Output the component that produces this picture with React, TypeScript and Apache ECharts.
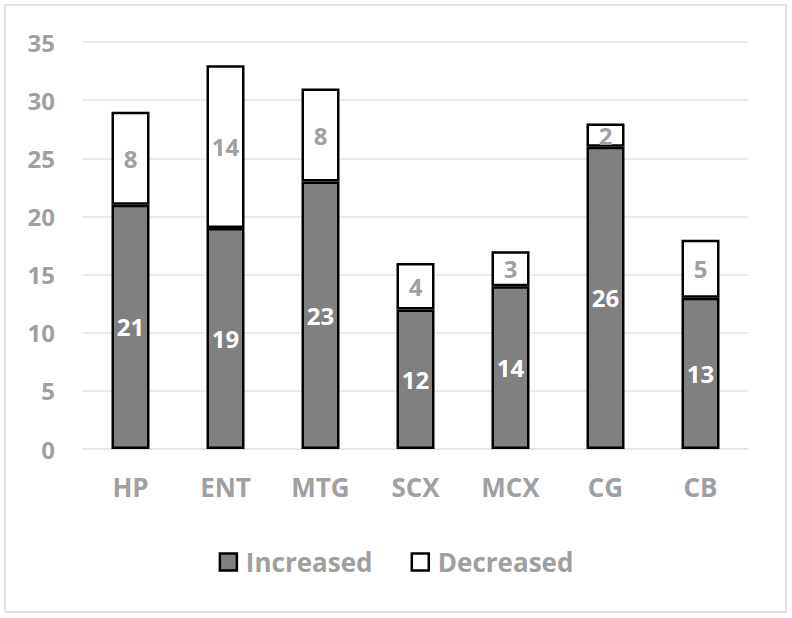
import React, { useEffect, useRef } from "react";
import * as echarts from "echarts";

const categories = ["HP", "ENT", "MTG", "SCX", "MCX", "CG", "CB"];
const increased = [21, 19, 23, 12, 14, 26, 13];
const decreased = [8, 14, 8, 4, 3, 2, 5];
const yTicks = { min: 0, max: 35, interval: 5 };

const FONT = "'Open Sans', 'Noto Sans', sans-serif";
const GRAY_TEXT = "#a0a0a0";

export default function App() {
  const ref = useRef<HTMLDivElement>(null);
  useEffect(() => {
    if (!ref.current) return;
    const chart = echarts.init(ref.current, null, { renderer: "svg" });
    chart.setOption({
      animation: false,
      backgroundColor: "#ffffff",
      textStyle: { fontFamily: FONT },
      graphic: [
        {
          type: "rect",
          shape: { x: 5, y: 5, width: 781, height: 607 },
          style: { fill: "none", stroke: "#d9d9d9", lineWidth: 1.5 },
          silent: true,
        },
      ],
      grid: { left: 83, right: 44, top: 42, bottom: 169 },
      legend: {
        data: [
          { name: "Increased", itemStyle: { color: "#808080", borderColor: "#000", borderWidth: 2.5 } },
          { name: "Decreased", itemStyle: { color: "#ffffff", borderColor: "#000", borderWidth: 2.5 } },
        ],
        left: "center",
        top: 544,
        icon: "rect",
        itemWidth: 17,
        itemHeight: 17,
        itemGap: 38,
        textStyle: { color: GRAY_TEXT, fontSize: 26, fontWeight: "bold", fontFamily: FONT, padding: [0, 0, 0, 4] },
      },
      xAxis: {
        type: "category",
        data: categories,
        axisLine: { show: true, lineStyle: { color: "#e3e3e3", width: 1.5 } },
        axisTick: { show: false },
        axisLabel: { color: GRAY_TEXT, fontSize: 26, fontWeight: "bold", margin: 25, fontFamily: FONT },
      },
      yAxis: {
        type: "value",
        min: yTicks.min,
        max: yTicks.max,
        interval: yTicks.interval,
        axisLine: { show: false },
        axisTick: { show: false },
        splitLine: { lineStyle: { color: "#e3e3e3", width: 1.5 } },
        axisLabel: { color: GRAY_TEXT, fontSize: 24, fontWeight: "bold", margin: 28, fontFamily: FONT },
      },
      series: [
        {
          name: "Increased",
          type: "bar",
          stack: "total",
          data: increased,
          barWidth: 38,
          itemStyle: { color: "#808080", borderColor: "#000", borderWidth: 2.5 },
          label: {
            show: true,
            position: "inside",
            color: "#ffffff",
            fontSize: 24,
            fontWeight: "bold",
            fontFamily: FONT,
          },
        },
        {
          name: "Decreased",
          type: "bar",
          stack: "total",
          data: decreased,
          barWidth: 38,
          itemStyle: { color: "#ffffff", borderColor: "#000", borderWidth: 2.5 },
          label: {
            show: true,
            position: "inside",
            color: GRAY_TEXT,
            fontSize: 24,
            fontWeight: "bold",
            fontFamily: FONT,
          },
        },
      ],
    });
    return () => chart.dispose();
  }, []);
  return (
    <div
      ref={ref}
      style={{ position: "absolute", left: 0, top: 0, width: 792, height: 618 }}
    />
  );
}
